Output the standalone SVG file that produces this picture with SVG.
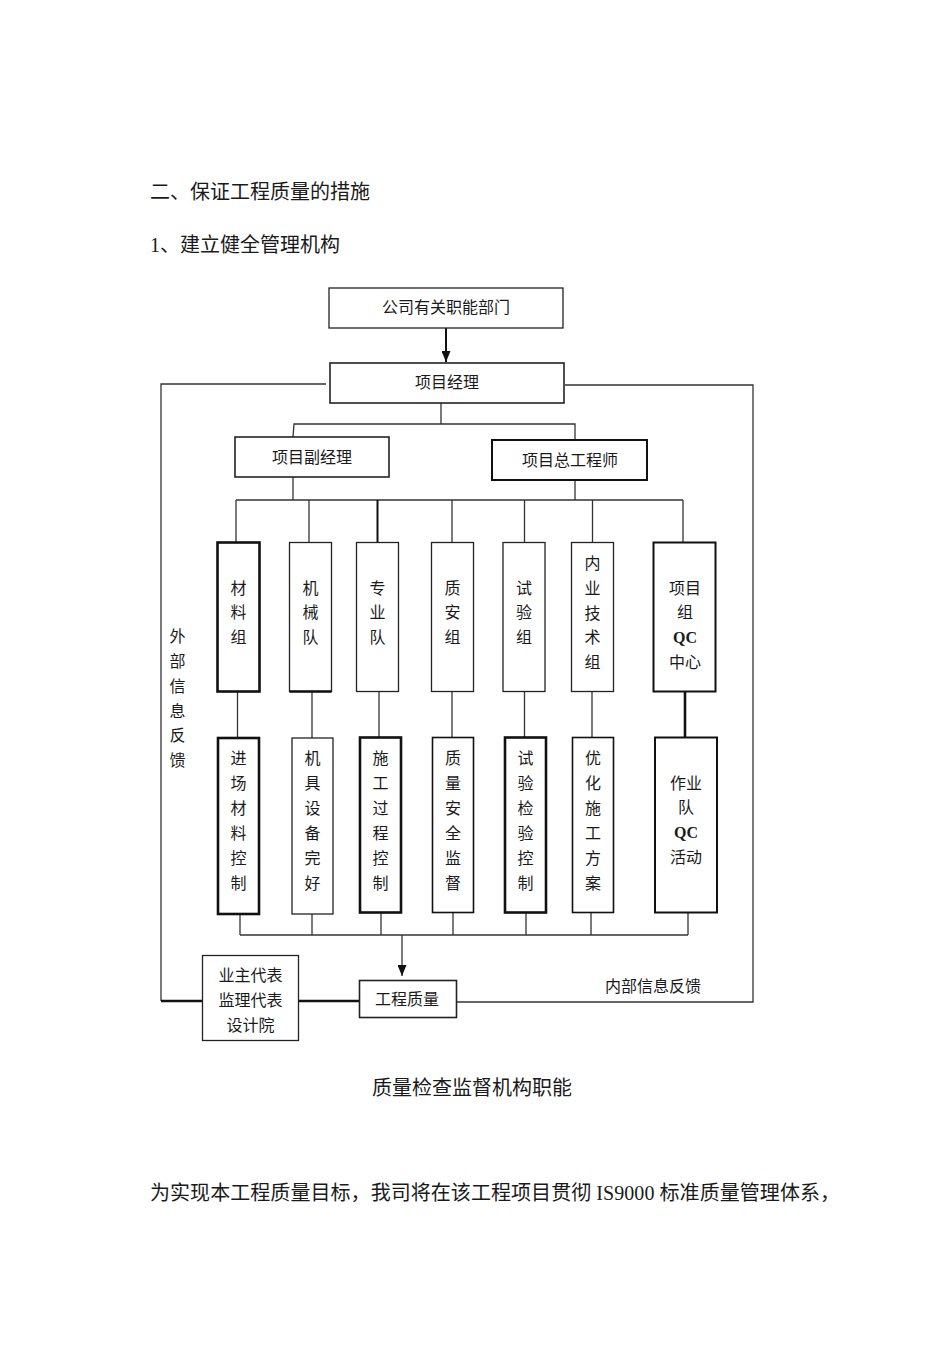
<svg xmlns="http://www.w3.org/2000/svg" width="950" height="1345" viewBox="0 0 950 1345">
<style>
text{font-family:"Liberation Serif","Noto Sans CJK SC",serif;fill:#1a1a1a}
.h{font-size:20px}
.t{font-size:16px;text-anchor:middle;dominant-baseline:central}
.b{fill:#fff;stroke:#222;stroke-width:1.3}
.bk{fill:#fff;stroke:#111;stroke-width:2.6}
.bm{fill:#fff;stroke:#111;stroke-width:2}
.c{fill:none;stroke:#333;stroke-width:1.3}
.ck{fill:none;stroke:#111;stroke-width:2.6}
</style>
<defs>
<marker id="ar" markerWidth="11" markerHeight="9" refX="11" refY="4.5" orient="auto" markerUnits="userSpaceOnUse" viewBox="0 0 11 9">
<path d="M0,0 L11,4.5 L0,9 Z" fill="#111"/>
</marker>
</defs>
<rect width="950" height="1345" fill="#fff"/>
<text class="h" x="150" y="199">二、保证工程质量的措施</text>
<text class="h" x="150" y="252">1、建立健全管理机构</text>

<g id="connectors">
<line class="ck" x1="446" y1="328" x2="446" y2="362" marker-end="url(#ar)" style="stroke-width:2"/>
<polyline class="c" points="326,384 161,384 161,1001"/>
<polyline class="ck" points="161,1001 202,1001" style="stroke-width:2.4"/>
<polyline class="c" points="565,385 753,385 753,1002 457,1002"/>
<line class="c" x1="441" y1="403" x2="441" y2="424"/>
<polyline class="c" points="293,437 294,424 575,424 575,440"/>
<line class="c" x1="293" y1="477" x2="293" y2="500"/>
<line class="c" x1="575" y1="480" x2="575" y2="500"/>
<line class="c" x1="236" y1="500" x2="683" y2="500"/>
<line class="c" x1="236" y1="500" x2="236" y2="542"/>
<line class="c" x1="309" y1="500" x2="309" y2="542"/>
<line class="ck" x1="377.5" y1="500" x2="377.5" y2="542" style="stroke-width:2"/>
<line class="c" x1="452" y1="500" x2="452" y2="542"/>
<line class="c" x1="524.5" y1="500" x2="524.5" y2="542"/>
<line class="c" x1="592.5" y1="500" x2="592.5" y2="542"/>
<line class="c" x1="683" y1="500" x2="683" y2="542"/>
<line class="c" x1="237.5" y1="692" x2="237.5" y2="738"/>
<line class="c" x1="312" y1="692" x2="312" y2="738"/>
<line class="c" x1="379" y1="692" x2="379" y2="737"/>
<line class="c" x1="452" y1="692" x2="452" y2="737"/>
<line class="c" x1="524.5" y1="692" x2="524.5" y2="737"/>
<line class="c" x1="592" y1="692" x2="592" y2="737"/>
<line class="ck" x1="685" y1="692" x2="685" y2="737"/>
<line class="c" x1="240" y1="914" x2="240" y2="935"/>
<line class="c" x1="312" y1="914" x2="312" y2="935"/>
<line class="c" x1="381" y1="913" x2="381" y2="935"/>
<line class="c" x1="453" y1="913" x2="453" y2="935"/>
<line class="c" x1="526" y1="913" x2="526" y2="935"/>
<line class="c" x1="591" y1="913" x2="591" y2="935"/>
<line class="c" x1="688" y1="913" x2="688" y2="935"/>
<line class="c" x1="240" y1="935" x2="688" y2="935"/>
<line class="c" x1="402" y1="935" x2="402" y2="976" marker-end="url(#ar)"/>
<line class="ck" x1="298" y1="1001" x2="359" y2="1001" style="stroke-width:2.4"/>
</g>

<g id="n-company"><rect class="b" x="329" y="288" width="234" height="40"/><text class="t" x="446" y="307">公司有关职能部门</text></g>
<g id="n-pm"><rect class="b" x="330" y="363" width="234" height="40" style="stroke-width:1.6"/><text class="t" x="447" y="382">项目经理</text></g>
<g id="n-dpm"><rect class="b" x="235" y="437" width="154" height="40" style="stroke-width:1.6"/><text class="t" x="312" y="457">项目副经理</text></g>
<g id="n-ce"><rect class="bm" x="492" y="440" width="155" height="40"/><text class="t" x="570" y="460">项目总工程师</text></g>

<g id="n-u1"><rect class="bk" x="217.5" y="542.5" width="42" height="149"/><text class="t" x="238.5" y="588">材</text><text class="t" x="238.5" y="612">料</text><text class="t" x="238.5" y="637">组</text></g>
<g id="n-u2"><rect class="b" x="289.5" y="542.5" width="42" height="149"/><line x1="289.5" y1="691.5" x2="331.5" y2="691.5" stroke="#111" stroke-width="2.4"/><text class="t" x="310.5" y="588">机</text><text class="t" x="310.5" y="612">械</text><text class="t" x="310.5" y="637">队</text></g>
<g id="n-u3"><rect class="b" x="356.5" y="542.5" width="42" height="149"/><text class="t" x="377.5" y="588">专</text><text class="t" x="377.5" y="612">业</text><text class="t" x="377.5" y="637">队</text></g>
<g id="n-u4"><rect class="b" x="431.5" y="542.5" width="42" height="149"/><text class="t" x="452.5" y="588">质</text><text class="t" x="452.5" y="612">安</text><text class="t" x="452.5" y="637">组</text></g>
<g id="n-u5"><rect class="b" x="503" y="542.5" width="42" height="149"/><text class="t" x="524" y="588">试</text><text class="t" x="524" y="612">验</text><text class="t" x="524" y="637">组</text></g>
<g id="n-u6"><rect class="b" x="571.5" y="542.5" width="42" height="149"/><text class="t" x="592.5" y="563">内</text><text class="t" x="592.5" y="588">业</text><text class="t" x="592.5" y="613">技</text><text class="t" x="592.5" y="637">术</text><text class="t" x="592.5" y="662">组</text></g>
<g id="n-u7"><rect class="bm" x="653.5" y="542.5" width="62" height="149"/><text class="t" x="685" y="588">项目</text><text class="t" x="685" y="612">组</text><text class="t" x="685" y="637" style="font-weight:bold">QC</text><text class="t" x="685" y="662">中心</text></g>

<g id="n-l1"><rect class="bk" x="218" y="738" width="41" height="176"/><text class="t" x="238.5" y="758">进</text><text class="t" x="238.5" y="783">场</text><text class="t" x="238.5" y="808">材</text><text class="t" x="238.5" y="833">料</text><text class="t" x="238.5" y="858">控</text><text class="t" x="238.5" y="883">制</text></g>
<g id="n-l2"><rect class="b" x="292" y="738" width="41" height="176"/><text class="t" x="312.5" y="758">机</text><text class="t" x="312.5" y="783">具</text><text class="t" x="312.5" y="808">设</text><text class="t" x="312.5" y="833">备</text><text class="t" x="312.5" y="858">完</text><text class="t" x="312.5" y="883">好</text></g>
<g id="n-l3"><rect class="bk" x="360" y="737.5" width="41" height="175"/><text class="t" x="380.5" y="758">施</text><text class="t" x="380.5" y="783">工</text><text class="t" x="380.5" y="808">过</text><text class="t" x="380.5" y="833">程</text><text class="t" x="380.5" y="858">控</text><text class="t" x="380.5" y="883">制</text></g>
<g id="n-l4"><rect class="bm" x="432.5" y="737.5" width="41" height="175" style="stroke-width:1.6"/><text class="t" x="453" y="758">质</text><text class="t" x="453" y="783">量</text><text class="t" x="453" y="808">安</text><text class="t" x="453" y="833">全</text><text class="t" x="453" y="858">监</text><text class="t" x="453" y="883">督</text></g>
<g id="n-l5"><rect class="bk" x="505" y="737.5" width="41" height="175"/><text class="t" x="525.5" y="758">试</text><text class="t" x="525.5" y="783">验</text><text class="t" x="525.5" y="808">检</text><text class="t" x="525.5" y="833">验</text><text class="t" x="525.5" y="858">控</text><text class="t" x="525.5" y="883">制</text></g>
<g id="n-l6"><rect class="bm" x="572.5" y="737.5" width="41" height="175" style="stroke-width:1.6"/><text class="t" x="593" y="758">优</text><text class="t" x="593" y="783">化</text><text class="t" x="593" y="808">施</text><text class="t" x="593" y="833">工</text><text class="t" x="593" y="858">方</text><text class="t" x="593" y="883">案</text></g>
<g id="n-l7"><rect class="bm" x="655" y="737.5" width="62" height="175"/><text class="t" x="686" y="783">作业</text><text class="t" x="686" y="807">队</text><text class="t" x="686" y="832" style="font-weight:bold">QC</text><text class="t" x="686" y="857">活动</text></g>

<g id="n-owner"><rect class="b" x="202.5" y="955.5" width="96" height="85"/><text class="t" x="250.5" y="975">业主代表</text><text class="t" x="250.5" y="1000">监理代表</text><text class="t" x="250.5" y="1025">设计院</text></g>
<g id="n-quality"><rect class="b" x="359.5" y="980.5" width="97" height="37" style="stroke-width:1.6"/><text class="t" x="407" y="999">工程质量</text></g>

<g id="labels">
<text class="t" x="177.5" y="636">外</text><text class="t" x="177.5" y="661">部</text><text class="t" x="177.5" y="686">信</text><text class="t" x="177.5" y="711">息</text><text class="t" x="177.5" y="735">反</text><text class="t" x="177.5" y="760">馈</text>
<text class="t" x="653" y="986">内部信息反馈</text>
</g>

<text class="h" x="472" y="1088" style="text-anchor:middle;dominant-baseline:central">质量检查监督机构职能</text>
<text class="h" x="150" y="1200" textLength="690" lengthAdjust="spacing">为实现本工程质量目标，我司将在该工程项目贯彻 IS9000 标准质量管理体系，</text>
</svg>
